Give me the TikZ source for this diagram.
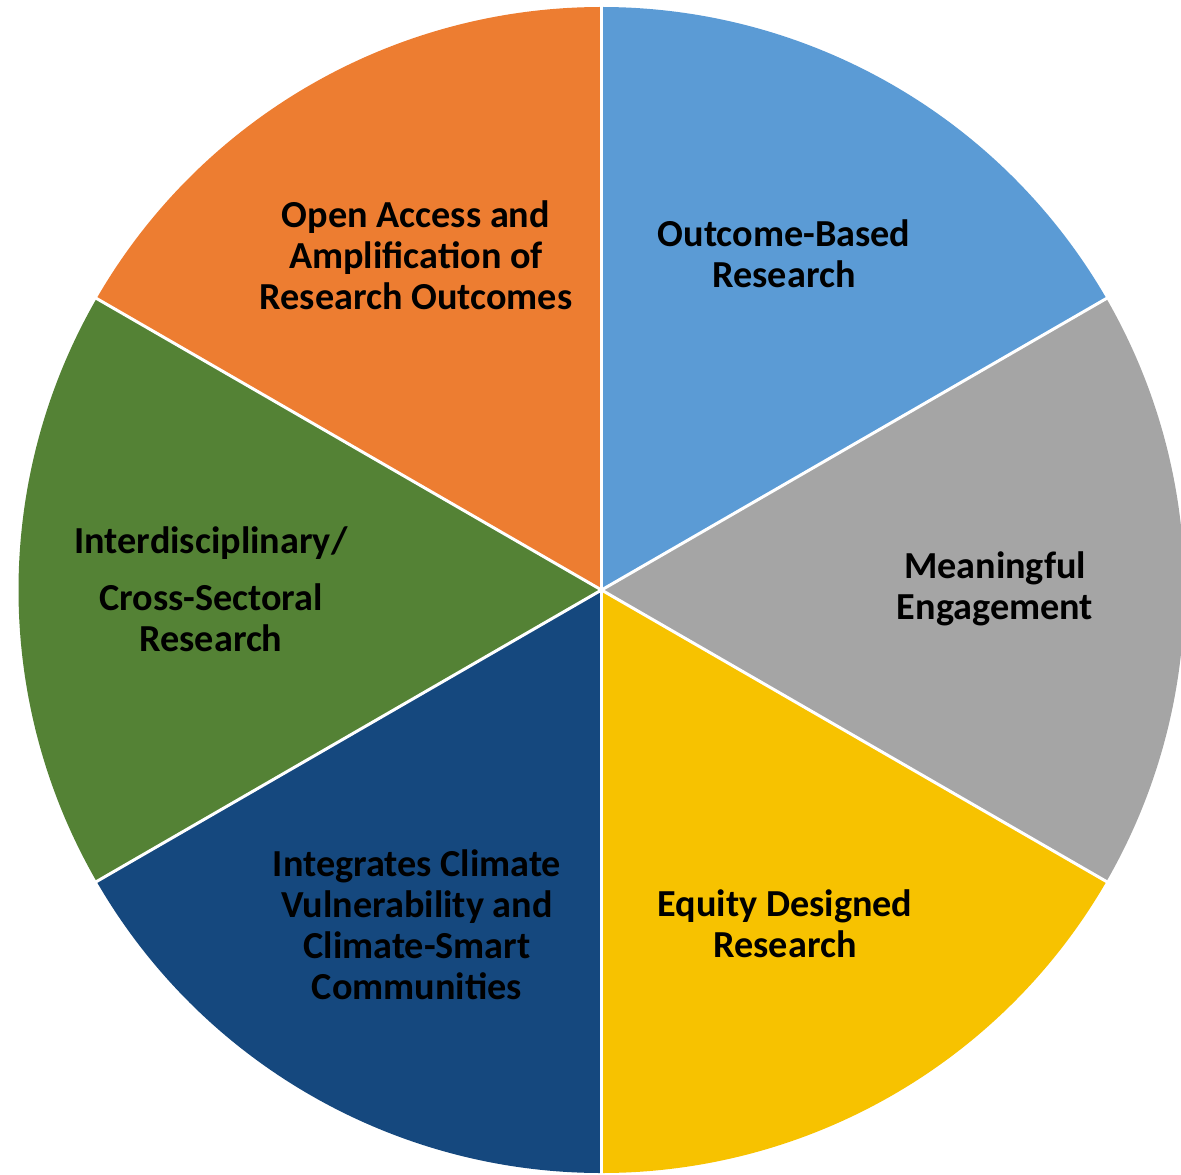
\documentclass[tikz,border=0pt]{standalone}
\usepackage{fontspec}
\setmainfont{Carlito}
\usepackage{xcolor}
\definecolor{pie-blue}{HTML}{5B9BD5}
\definecolor{pie-grey}{HTML}{A5A5A5}
\definecolor{pie-yellow}{HTML}{F7C200}
\definecolor{pie-navy}{HTML}{15487E}
\definecolor{pie-green}{HTML}{548235}
\definecolor{pie-orange}{HTML}{ED7D31}
\usepackage{tikz}

\begin{document}
\begin{tikzpicture}[x=0.5pt, y=0.5pt,
    slice-text/.style={font=\bfseries\fontsize{19.1}{20.5}\selectfont, align=center, text=black, inner sep=0pt}]

    % Frame
    \useasboundingbox (0, 0) rectangle (1181, 1174);
    \clip (0, 0) rectangle (1181, 1174);
    \coordinate (centre) at (601.5, 584);

    % Slices
    \fill[pie-blue] (centre) -- ++(90:583) arc (90:30:583) -- cycle;
    \fill[pie-grey] (centre) -- ++(30:583) arc (30:-30:583) -- cycle;
    \fill[pie-yellow] (centre) -- ++(-30:583) arc (-30:-90:583) -- cycle;
    \fill[pie-navy] (centre) -- ++(-90:583) arc (-90:-150:583) -- cycle;
    \fill[pie-green] (centre) -- ++(210:583) arc (210:150:583) -- cycle;
    \fill[pie-orange] (centre) -- ++(150:583) arc (150:90:583) -- cycle;

    % Dividers
    \foreach \a in {30, 90, ..., 330}
        \draw[white, line width=1.5pt] (centre) -- ++(\a:590);

    % Labels
    \node[slice-text] (outcome) at (784, 920) {Outcome-Based\\Research};
    \node[slice-text] (engagement) at (995, 585) {Meaningful\\Engagement};
    \node[slice-text] (equity) at (785, 250) {Equity Designed\\Research};
    \node[slice-text] (climate) at (417, 249.5) {Integrates Climate\\Vulnerability and\\Climate-Smart\\Communities};
    \node[slice-text] (cross) at (211, 584.5) {Interdisciplinary/\\[8pt]Cross-Sectoral\\Research};
    \node[slice-text] (access) at (416, 919) {Open Access and\\Amplification of\\Research Outcomes};

\end{tikzpicture}
\end{document}
